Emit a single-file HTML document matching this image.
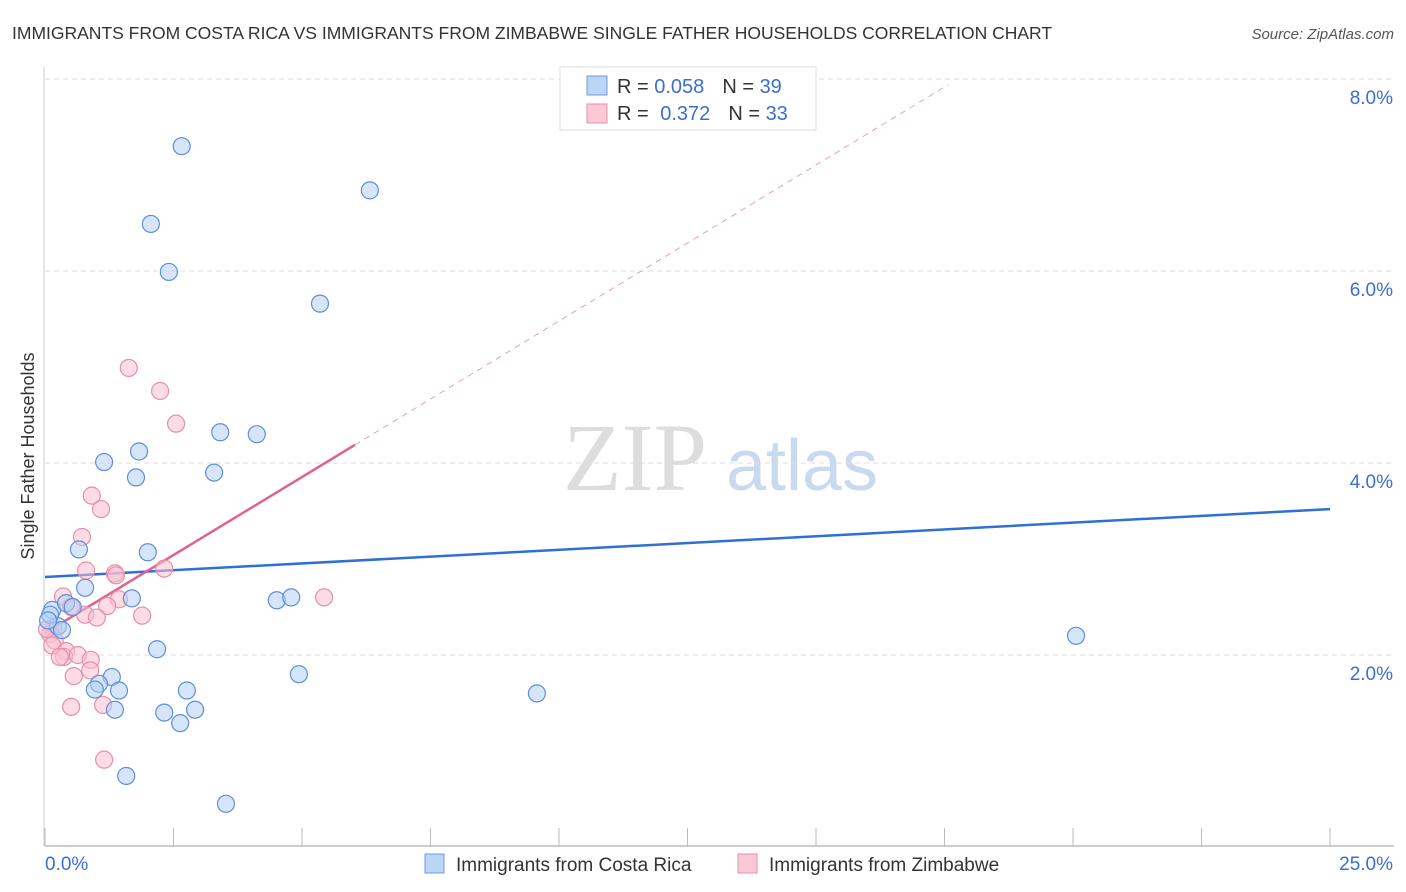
<!DOCTYPE html>
<html><head><meta charset="utf-8"><style>
body{margin:0;background:#fff;font-family:"Liberation Sans",sans-serif}
#wrap{position:relative;width:1406px;height:892px;overflow:hidden}
</style></head><body>
<div id="wrap">
<svg id="svg" width="1406" height="892" xmlns="http://www.w3.org/2000/svg" font-family="Liberation Sans, sans-serif">
<text x="12" y="39" font-size="17.5" fill="#333">IMMIGRANTS FROM COSTA RICA VS IMMIGRANTS FROM ZIMBABWE SINGLE FATHER HOUSEHOLDS CORRELATION CHART</text>
<text x="1394" y="39" font-size="15" fill="#555" font-style="italic" text-anchor="end">Source: ZipAtlas.com</text>
<text x="34" y="456" font-size="18" fill="#333" text-anchor="middle" transform="rotate(-90 34 456)">Single Father Households</text>
<g><text x="635" y="490" font-size="96" fill="#ddd" font-family="Liberation Serif, serif" text-anchor="middle">ZIP</text><text x="802" y="490" font-size="72" fill="#c9d9ef" text-anchor="middle">atlas</text></g>
<g id="grid"></g><g id="axes"></g><g id="lines"></g><g id="pts"></g>
<g>
<rect x="560" y="67" width="256" height="63" fill="#fff" stroke="#ddd"/>
<rect x="587" y="76" width="20" height="19" fill="#bcd5f5" stroke="#6d9be0"/>
<rect x="587" y="104" width="20" height="19" fill="#fcc8d6" stroke="#e88fa8"/>
<text x="617" y="93" font-size="20" fill="#333">R = <tspan fill="#3a6fd0">0.058</tspan><tspan dx="18">N = </tspan><tspan fill="#3a6fd0">39</tspan></text>
<text x="617" y="120" font-size="20" fill="#333">R = <tspan dx="6" fill="#3a6fd0">0.372</tspan><tspan dx="18">N = </tspan><tspan fill="#3a6fd0">33</tspan></text>
</g>
<g>
<rect x="425" y="854" width="19" height="19" fill="#bcd5f5" stroke="#6d9be0"/>
<text x="456" y="871" font-size="19" fill="#333">Immigrants from Costa Rica</text>
<rect x="738" y="854" width="19" height="19" fill="#fcc8d6" stroke="#e88fa8"/>
<text x="769" y="871" font-size="19" fill="#333">Immigrants from Zimbabwe</text>
</g>
</svg>
</div>
<script>
const xTicks=[0,2.5,5,7.5,10,12.5,15,17.5,20,22.5,25];
const yTicks=[2,4,6,8];
const yTickLabels=["2.0%","4.0%","6.0%","8.0%"];
const blueX=[2.66,6.32,2.06,2.41,5.35,3.41,4.12,1.83,1.15,1.77,3.29,0.66,2.00,0.78,1.69,4.51,4.79,0.14,0.41,0.54,0.25,0.10,2.18,20.06,1.30,4.94,1.05,0.97,1.44,2.76,9.57,1.36,2.32,2.92,2.63,1.58,3.52,0.06,0.33];
const blueY=[7.30,6.84,6.49,5.99,5.66,4.32,4.30,4.12,4.01,3.85,3.90,3.10,3.07,2.70,2.59,2.57,2.60,2.47,2.54,2.50,2.30,2.42,2.06,2.20,1.77,1.80,1.70,1.64,1.63,1.63,1.60,1.43,1.40,1.43,1.29,0.74,0.45,2.36,2.26];
const pinkX=[1.63,2.24,2.55,0.91,1.09,0.72,0.80,1.36,1.38,2.32,5.43,0.35,1.44,0.51,0.78,1.21,1.01,1.89,0.16,0.10,0.19,0.14,0.41,0.37,0.64,0.89,0.88,0.29,0.56,0.51,1.13,1.15,0.04];
const pinkY=[4.99,4.75,4.41,3.66,3.52,3.23,2.88,2.85,2.83,2.90,2.60,2.61,2.58,2.50,2.42,2.51,2.39,2.41,2.28,2.22,2.15,2.10,2.04,1.98,2.00,1.95,1.84,1.98,1.78,1.46,1.48,0.91,2.27];
const blueTrend=[2.8125,3.52];
const pinkTrend=[2.229,0.325];
const NS="http://www.w3.org/2000/svg";
const X=v=>45+v*51.4, Y=v=>847-v*96;
function mk(t,a,p){const e=document.createElementNS(NS,t);for(const k in a)e.setAttribute(k,a[k]);p.appendChild(e);return e;}
const grid=document.getElementById('grid'),axes=document.getElementById('axes'),lines=document.getElementById('lines'),pts=document.getElementById('pts');
yTicks.forEach((v,i)=>{
 const l=mk('line',{x1:45,x2:1394,y1:Y(v),y2:Y(v),stroke:'#ddd','stroke-dasharray':'5,4'},grid);
 
 
 const t=mk('text',{x:1393,y:Y(v)+25,'font-size':19,fill:'#3a6fd0','text-anchor':'end'},axes);
 t.textContent=yTickLabels[i];
 
 
});
const xa=mk('line',{x1:45,x2:1394,y1:846,y2:846,stroke:'#bbb','stroke-width':1.5},axes);


const ya=mk('line',{x1:44,x2:44,y1:67,y2:846,stroke:'#ccc'},axes);


xTicks.forEach(v=>{
 const l=mk('line',{x1:X(v),x2:X(v),y1:828,y2:846,stroke:'#bbb'},axes);
 
 
});
const t0=mk('text',{x:45,y:870,'font-size':19,fill:'#3a6fd0'},axes);t0.textContent='0.0%';


const t1=mk('text',{x:1393,y:870,'font-size':19,fill:'#3a6fd0','text-anchor':'end'},axes);t1.textContent='25.0%';


function dot(x,y,f,s,n){const c=mk('circle',{cx:X(x),cy:Y(y),r:8.5,fill:f,stroke:s,'stroke-width':1.2,'fill-opacity':0.55},pts);
 
 }
pinkX.forEach((x,i)=>dot(x,pinkY[i],'#fbbfd0','#e88fa8','zimbabwe-point'));
blueX.forEach((x,i)=>dot(x,blueY[i],'#b5d0f3','#5d8fdc','costa-rica-point'));
const bl=mk('line',{x1:X(0),y1:Y(blueTrend[0]),x2:X(25),y2:Y(blueTrend[1]),stroke:'#2f6fd6','stroke-width':2.5},lines);


const pe=6.03,pd=17.57;
const pl=mk('line',{x1:X(0),y1:Y(pinkTrend[0]),x2:X(pe),y2:Y(pinkTrend[0]+pinkTrend[1]*pe),stroke:'#e0648e','stroke-width':2.5},lines);


const pdl=mk('line',{x1:X(pe),y1:Y(pinkTrend[0]+pinkTrend[1]*pe),x2:X(pd),y2:Y(pinkTrend[0]+pinkTrend[1]*pd),stroke:'#e8a0b6','stroke-width':1,'stroke-dasharray':'6,5'},lines);


</script>
</body></html>
